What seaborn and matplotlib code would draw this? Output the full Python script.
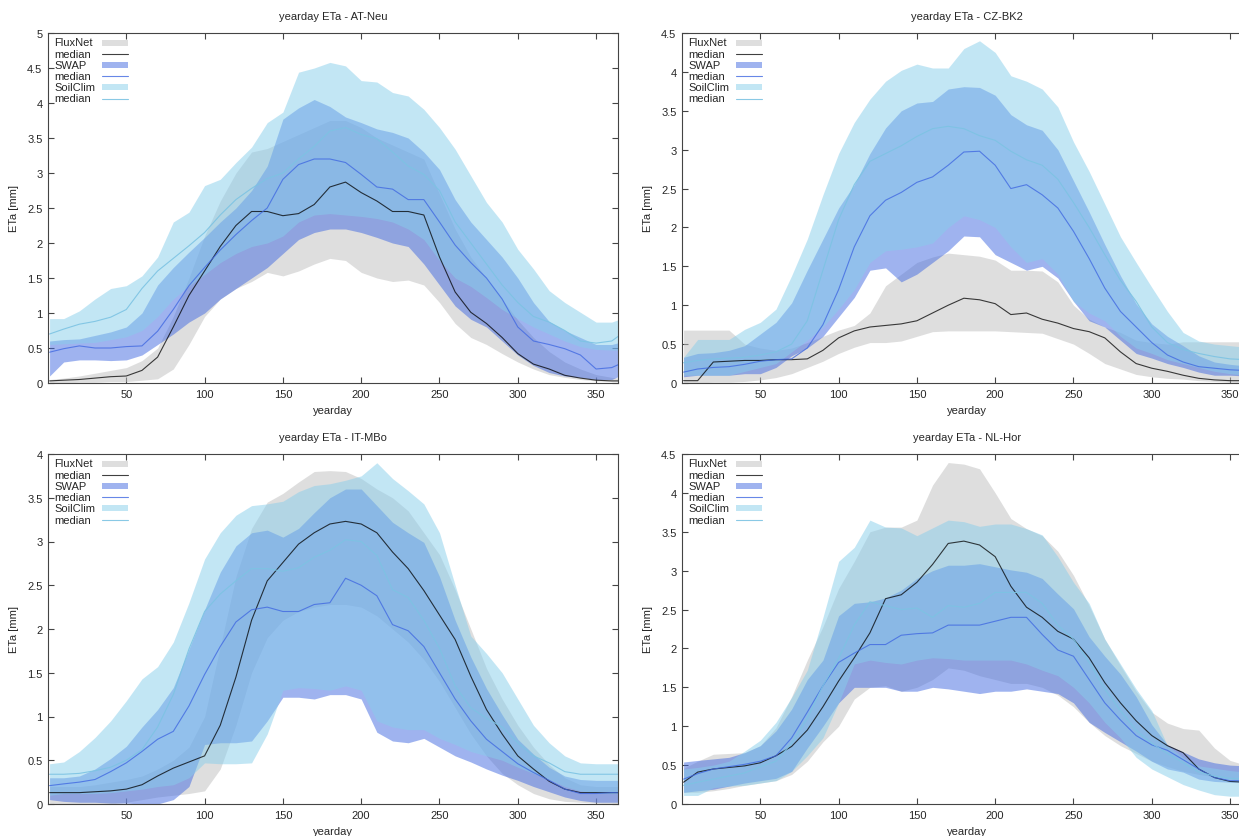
import numpy as np
import pandas as pd
import seaborn as sns
import matplotlib
matplotlib.use('Agg')
import matplotlib.pyplot as plt
from matplotlib.patches import Rectangle
from matplotlib.ticker import FuncFormatter

# Style similar to a gnuplot output
sns.set_style('ticks')
plt.rcParams['font.family'] = ['Liberation Sans', 'DejaVu Sans']
plt.rcParams['font.size'] = 8

# Day grid used by all series
DAYS = [1] + list(range(10, 361, 10)) + [365]

# AT-Neu
at_flux_lo = [0.0, 0.0, 0.01, 0.01, 0.02, 0.02, 0.04, 0.06, 0.2, 0.55, 0.95, 1.2, 1.35, 1.45, 1.58, 1.53, 1.6, 1.7, 1.78, 1.75, 1.58, 1.5, 1.45, 1.47, 1.4, 1.15, 0.85, 0.65, 0.55, 0.42, 0.3, 0.2, 0.12, 0.08, 0.05, 0.03, 0.02, 0.02]
at_flux_md = [0.03, 0.04, 0.05, 0.07, 0.09, 0.1, 0.18, 0.37, 0.8, 1.25, 1.6, 1.95, 2.25, 2.45, 2.45, 2.39, 2.42, 2.55, 2.8, 2.87, 2.72, 2.6, 2.45, 2.45, 2.4, 1.8, 1.3, 1.01, 0.85, 0.65, 0.42, 0.27, 0.2, 0.11, 0.07, 0.04, 0.03, 0.03]
at_flux_hi = [0.05, 0.07, 0.1, 0.14, 0.18, 0.22, 0.32, 0.5, 0.95, 1.5, 2.1, 2.6, 3.0, 3.3, 3.35, 3.45, 3.55, 3.65, 3.75, 3.75, 3.65, 3.5, 3.4, 3.3, 3.2, 2.7, 2.2, 1.8, 1.5, 1.2, 0.9, 0.65, 0.45, 0.3, 0.2, 0.12, 0.08, 0.07]
at_swap_lo = [0.1, 0.3, 0.33, 0.33, 0.32, 0.33, 0.4, 0.55, 0.7, 0.87, 1.0, 1.2, 1.35, 1.5, 1.65, 1.85, 2.05, 2.15, 2.2, 2.2, 2.15, 2.08, 2.0, 1.95, 1.7, 1.4, 1.1, 0.91, 0.8, 0.6, 0.4, 0.25, 0.15, 0.1, 0.08, 0.05, 0.05, 0.1]
at_swap_md = [0.44, 0.49, 0.53, 0.5, 0.5, 0.52, 0.53, 0.74, 1.05, 1.39, 1.65, 1.9, 2.12, 2.32, 2.5, 2.91, 3.12, 3.2, 3.2, 3.15, 2.98, 2.8, 2.77, 2.62, 2.62, 2.3, 1.97, 1.72, 1.5, 1.2, 0.8, 0.6, 0.55, 0.49, 0.4, 0.2, 0.22, 0.27]
at_swap_hi = [0.6, 0.62, 0.63, 0.68, 0.73, 0.8, 1.0, 1.4, 1.65, 1.87, 2.08, 2.3, 2.5, 2.75, 3.1, 3.77, 3.93, 4.05, 3.95, 3.8, 3.72, 3.63, 3.58, 3.5, 3.3, 3.05, 2.62, 2.3, 2.05, 1.8, 1.5, 1.15, 0.88, 0.75, 0.65, 0.55, 0.55, 0.58]
at_soil_lo = [0.55, 0.56, 0.57, 0.58, 0.62, 0.66, 0.75, 0.95, 1.2, 1.39, 1.55, 1.72, 1.85, 1.95, 2.0, 2.1, 2.3, 2.4, 2.42, 2.4, 2.38, 2.35, 2.3, 2.2, 2.05, 1.75, 1.5, 1.38, 1.22, 1.05, 0.92, 0.8, 0.7, 0.6, 0.52, 0.48, 0.47, 0.47]
at_soil_md = [0.7, 0.77, 0.84, 0.88, 0.94, 1.05, 1.35, 1.6, 1.78, 1.96, 2.15, 2.4, 2.62, 2.78, 2.92, 3.0, 3.2, 3.38, 3.6, 3.65, 3.55, 3.49, 3.3, 3.1, 2.98, 2.75, 2.3, 2.0, 1.7, 1.4, 1.15, 0.95, 0.87, 0.75, 0.6, 0.57, 0.6, 0.68]
at_soil_hi = [0.92, 0.92, 1.03, 1.2, 1.35, 1.39, 1.53, 1.8, 2.3, 2.44, 2.82, 2.91, 3.15, 3.37, 3.72, 3.87, 4.44, 4.5, 4.58, 4.53, 4.32, 4.3, 4.15, 4.1, 3.91, 3.65, 3.34, 2.96, 2.58, 2.3, 1.91, 1.63, 1.32, 1.15, 1.01, 0.87, 0.87, 0.91]

# CZ-BK2
cz_flux_lo = [0.0, 0.0, 0.01, 0.01, 0.02, 0.04, 0.07, 0.12, 0.2, 0.28, 0.38, 0.46, 0.52, 0.52, 0.54, 0.6, 0.66, 0.67, 0.67, 0.67, 0.67, 0.66, 0.65, 0.64, 0.57, 0.5, 0.38, 0.25, 0.18, 0.11, 0.08, 0.06, 0.05, 0.03, 0.02, 0.01, 0.0, 0.0]
cz_flux_md = [0.03, 0.03, 0.27, 0.28, 0.29, 0.29, 0.3, 0.3, 0.31, 0.42, 0.58, 0.67, 0.72, 0.74, 0.76, 0.8, 0.9, 1.0, 1.09, 1.07, 1.02, 0.88, 0.9, 0.82, 0.77, 0.7, 0.66, 0.58, 0.4, 0.25, 0.19, 0.15, 0.1, 0.06, 0.04, 0.03, 0.03, 0.03]
cz_flux_hi = [0.68, 0.68, 0.68, 0.68, 0.5, 0.45, 0.42, 0.45, 0.52, 0.6, 0.68, 0.74, 0.9, 1.25, 1.4, 1.55, 1.62, 1.67, 1.65, 1.63, 1.58, 1.45, 1.45, 1.44, 1.3, 1.0, 0.82, 0.72, 0.65, 0.55, 0.52, 0.5, 0.53, 0.53, 0.53, 0.53, 0.53, 0.53]
cz_swap_lo = [0.08, 0.1, 0.1, 0.1, 0.12, 0.12, 0.2, 0.35, 0.45, 0.6, 0.85, 1.1, 1.45, 1.48, 1.3, 1.4, 1.55, 1.7, 1.89, 1.88, 1.65, 1.55, 1.45, 1.5, 1.35, 1.05, 0.8, 0.72, 0.55, 0.38, 0.32, 0.25, 0.2, 0.14, 0.1, 0.1, 0.09, 0.09]
cz_swap_md = [0.14, 0.18, 0.2, 0.21, 0.24, 0.28, 0.3, 0.31, 0.45, 0.75, 1.2, 1.75, 2.15, 2.35, 2.45, 2.58, 2.65, 2.8, 2.97, 2.98, 2.8, 2.5, 2.55, 2.42, 2.25, 1.95, 1.6, 1.22, 0.92, 0.72, 0.52, 0.36, 0.27, 0.21, 0.19, 0.17, 0.16, 0.16]
cz_swap_hi = [0.33, 0.38, 0.39, 0.42, 0.48, 0.63, 0.78, 1.03, 1.45, 1.85, 2.25, 2.55, 2.95, 3.28, 3.5, 3.6, 3.62, 3.78, 3.81, 3.8, 3.7, 3.45, 3.32, 3.25, 3.0, 2.6, 2.2, 1.78, 1.38, 1.02, 0.76, 0.6, 0.48, 0.35, 0.27, 0.24, 0.22, 0.22]
cz_soil_lo = [0.1, 0.1, 0.1, 0.1, 0.15, 0.2, 0.25, 0.4, 0.55, 0.72, 0.95, 1.2, 1.55, 1.7, 1.72, 1.75, 1.8, 2.0, 2.15, 2.1, 2.0, 1.75, 1.55, 1.6, 1.4, 1.05, 0.9, 0.8, 0.6, 0.45, 0.38, 0.3, 0.25, 0.2, 0.15, 0.12, 0.1, 0.1]
cz_soil_md = [0.26, 0.29, 0.31, 0.32, 0.33, 0.36, 0.4, 0.5, 0.8, 1.45, 2.1, 2.55, 2.85, 2.95, 3.05, 3.17, 3.27, 3.3, 3.27, 3.18, 3.12, 2.98, 2.87, 2.8, 2.62, 2.32, 2.0, 1.65, 1.32, 1.05, 0.72, 0.52, 0.43, 0.38, 0.34, 0.31, 0.3, 0.29]
cz_soil_hi = [0.33, 0.56, 0.56, 0.56, 0.69, 0.78, 0.95, 1.38, 1.85, 2.42, 2.95, 3.35, 3.65, 3.88, 4.02, 4.1, 4.05, 4.05, 4.3, 4.4, 4.25, 3.95, 3.88, 3.78, 3.55, 3.1, 2.72, 2.3, 1.88, 1.55, 1.23, 0.92, 0.65, 0.54, 0.5, 0.48, 0.46, 0.46]

# IT-MBo
it_flux_lo = [0.0, 0.0, 0.0, 0.0, 0.0, 0.02, 0.05, 0.08, 0.1, 0.12, 0.15, 0.4, 0.9, 1.5, 1.9, 2.1, 2.2, 2.25, 2.28, 2.28, 2.25, 2.15, 2.0, 1.85, 1.65, 1.4, 1.1, 0.8, 0.55, 0.35, 0.22, 0.12, 0.06, 0.03, 0.02, 0.01, 0.0, 0.0]
it_flux_md = [0.13, 0.13, 0.13, 0.14, 0.15, 0.17, 0.22, 0.32, 0.41, 0.48, 0.55, 0.9, 1.45, 2.1, 2.55, 2.76, 2.97, 3.1, 3.2, 3.23, 3.2, 3.1, 2.88, 2.69, 2.44, 2.16, 1.88, 1.46, 1.08, 0.8, 0.55, 0.4, 0.26, 0.17, 0.13, 0.13, 0.13, 0.13]
it_flux_hi = [0.2, 0.2, 0.2, 0.22, 0.25, 0.28, 0.32, 0.4, 0.5, 0.65, 1.0, 1.8, 2.6, 3.15, 3.45, 3.55, 3.68, 3.8, 3.81, 3.8, 3.72, 3.6, 3.5, 3.35, 3.1, 2.85, 2.45, 2.0, 1.55, 1.2, 0.9, 0.65, 0.45, 0.3, 0.22, 0.2, 0.2, 0.2]
it_swap_lo = [0.05, 0.03, 0.02, 0.02, 0.01, 0.01, 0.0, 0.0, 0.05, 0.2, 0.68, 0.7, 0.7, 0.72, 0.95, 1.22, 1.22, 1.2, 1.25, 1.25, 1.2, 0.82, 0.72, 0.7, 0.75, 0.65, 0.55, 0.48, 0.4, 0.33, 0.27, 0.2, 0.14, 0.08, 0.04, 0.02, 0.02, 0.02]
it_swap_md = [0.21, 0.23, 0.25, 0.28, 0.37, 0.47, 0.6, 0.74, 0.83, 1.12, 1.48, 1.8, 2.08, 2.22, 2.25, 2.2, 2.2, 2.28, 2.3, 2.58, 2.5, 2.38, 2.05, 1.98, 1.8, 1.5, 1.2, 0.95, 0.74, 0.6, 0.46, 0.36, 0.27, 0.17, 0.12, 0.12, 0.13, 0.13]
it_swap_hi = [0.3, 0.3, 0.32, 0.4, 0.52, 0.66, 0.88, 1.08, 1.33, 1.77, 2.22, 2.65, 2.95, 3.1, 3.13, 3.05, 3.15, 3.33, 3.5, 3.6, 3.6, 3.41, 3.22, 3.1, 2.99, 2.6, 2.1, 1.68, 1.32, 1.02, 0.74, 0.57, 0.42, 0.32, 0.28, 0.27, 0.27, 0.27]
it_soil_lo = [0.1, 0.12, 0.12, 0.12, 0.13, 0.15, 0.17, 0.2, 0.22, 0.3, 0.47, 0.46, 0.46, 0.47, 0.8, 1.3, 1.33, 1.32, 1.3, 1.35, 1.3, 0.95, 0.88, 0.85, 0.85, 0.75, 0.68, 0.6, 0.55, 0.5, 0.42, 0.35, 0.28, 0.2, 0.15, 0.12, 0.12, 0.12]
it_soil_md = [0.34, 0.34, 0.35, 0.38, 0.42, 0.5, 0.62, 0.88, 1.25, 1.77, 2.2, 2.4, 2.55, 2.69, 2.69, 2.66, 2.7, 2.82, 2.9, 3.02, 3.0, 2.84, 2.45, 2.36, 2.1, 1.78, 1.35, 1.1, 0.98, 0.88, 0.7, 0.55, 0.47, 0.37, 0.34, 0.34, 0.34, 0.34]
it_soil_hi = [0.46, 0.48, 0.6, 0.76, 0.95, 1.18, 1.43, 1.57, 1.85, 2.3, 2.8, 3.1, 3.3, 3.41, 3.43, 3.46, 3.57, 3.64, 3.66, 3.7, 3.75, 3.9, 3.72, 3.58, 3.43, 3.1, 2.5, 1.92, 1.72, 1.5, 1.2, 0.9, 0.7, 0.55, 0.47, 0.46, 0.46, 0.46]

# NL-Hor
nl_flux_lo = [0.15, 0.15, 0.17, 0.2, 0.24, 0.27, 0.3, 0.38, 0.55, 0.8, 1.0, 1.35, 1.5, 1.52, 1.45, 1.5, 1.6, 1.75, 1.72, 1.65, 1.6, 1.55, 1.55, 1.5, 1.4, 1.25, 1.05, 0.88, 0.75, 0.65, 0.55, 0.48, 0.42, 0.38, 0.35, 0.32, 0.3, 0.3]
nl_flux_md = [0.28, 0.41, 0.45, 0.47, 0.49, 0.53, 0.62, 0.74, 0.95, 1.25, 1.58, 1.88, 2.2, 2.64, 2.69, 2.85, 3.08, 3.35, 3.38, 3.33, 3.18, 2.8, 2.53, 2.4, 2.22, 2.12, 1.88, 1.56, 1.3, 1.07, 0.88, 0.75, 0.66, 0.45, 0.34, 0.29, 0.28, 0.28]
nl_flux_hi = [0.46, 0.55, 0.64, 0.65, 0.66, 0.75, 0.98, 1.38, 1.85, 2.28, 2.77, 3.12, 3.5, 3.56, 3.56, 3.65, 4.1, 4.39, 4.37, 4.31, 4.0, 3.67, 3.54, 3.45, 3.25, 2.94, 2.55, 2.12, 1.78, 1.45, 1.18, 1.04, 0.97, 0.95, 0.72, 0.56, 0.5, 0.49]
nl_swap_lo = [0.15, 0.17, 0.19, 0.23, 0.27, 0.3, 0.33, 0.42, 0.72, 1.0, 1.3, 1.5, 1.5, 1.5, 1.45, 1.45, 1.5, 1.48, 1.45, 1.42, 1.45, 1.45, 1.48, 1.45, 1.42, 1.3, 1.05, 0.92, 0.8, 0.68, 0.55, 0.45, 0.41, 0.32, 0.29, 0.28, 0.28, 0.28]
nl_swap_md = [0.32, 0.39, 0.45, 0.48, 0.51, 0.55, 0.62, 0.85, 1.18, 1.52, 1.82, 1.94, 2.05, 2.05, 2.17, 2.19, 2.2, 2.3, 2.3, 2.3, 2.35, 2.4, 2.4, 2.18, 1.98, 1.9, 1.6, 1.3, 1.08, 0.88, 0.76, 0.69, 0.57, 0.45, 0.34, 0.3, 0.3, 0.3]
nl_swap_hi = [0.54, 0.56, 0.58, 0.6, 0.66, 0.75, 0.94, 1.22, 1.6, 1.85, 2.42, 2.58, 2.6, 2.65, 2.75, 2.9, 3.0, 3.07, 3.07, 3.09, 3.05, 3.01, 2.98, 2.9, 2.7, 2.51, 2.15, 1.9, 1.67, 1.38, 1.02, 0.76, 0.67, 0.58, 0.53, 0.5, 0.49, 0.49]
nl_soil_lo = [0.11, 0.11, 0.21, 0.23, 0.24, 0.27, 0.3, 0.42, 0.62, 0.85, 1.3, 1.8, 1.85, 1.82, 1.8, 1.85, 1.88, 1.87, 1.85, 1.85, 1.85, 1.85, 1.8, 1.72, 1.65, 1.5, 1.3, 1.05, 0.85, 0.6, 0.45, 0.35, 0.25, 0.18, 0.12, 0.1, 0.1, 0.1]
nl_soil_md = [0.24, 0.28, 0.32, 0.36, 0.4, 0.48, 0.55, 0.78, 1.1, 1.52, 1.87, 2.3, 2.6, 2.55, 2.5, 2.52, 2.4, 2.55, 2.53, 2.58, 2.72, 2.72, 2.72, 2.58, 2.3, 2.12, 1.82, 1.48, 1.2, 0.95, 0.78, 0.65, 0.53, 0.41, 0.36, 0.33, 0.32, 0.32]
nl_soil_hi = [0.45, 0.47, 0.5, 0.55, 0.68, 0.82, 1.05, 1.37, 1.72, 2.4, 3.12, 3.3, 3.65, 3.56, 3.55, 3.45, 3.55, 3.65, 3.63, 3.57, 3.6, 3.6, 3.54, 3.46, 3.18, 2.85, 2.58, 2.12, 1.8, 1.48, 1.2, 0.75, 0.6, 0.49, 0.46, 0.43, 0.41, 0.41]

# Panels: site, y max, left/top position in pixels
panels = [
    ('AT-Neu', 5.0, 48, 34, [at_flux_lo, at_flux_md, at_flux_hi, at_swap_lo, at_swap_md, at_swap_hi, at_soil_lo, at_soil_md, at_soil_hi]),
    ('CZ-BK2', 4.5, 682, 34, [cz_flux_lo, cz_flux_md, cz_flux_hi, cz_swap_lo, cz_swap_md, cz_swap_hi, cz_soil_lo, cz_soil_md, cz_soil_hi]),
    ('IT-MBo', 4.0, 48, 455, [it_flux_lo, it_flux_md, it_flux_hi, it_swap_lo, it_swap_md, it_swap_hi, it_soil_lo, it_soil_md, it_soil_hi]),
    ('NL-Hor', 4.5, 682, 455, [nl_flux_lo, nl_flux_md, nl_flux_hi, nl_swap_lo, nl_swap_md, nl_swap_hi, nl_soil_lo, nl_soil_md, nl_soil_hi]),
]

models = ['FluxNet', 'SWAP', 'SoilClim']
fill_colors = {'FluxNet': '#bebebe', 'SWAP': '#4169e1', 'SoilClim': '#87ceeb'}
line_colors = {'FluxNet': '#000000', 'SWAP': '#4169e1', 'SoilClim': '#7cc3e3'}
line_alpha = {'FluxNet': 0.75, 'SWAP': 0.8, 'SoilClim': 0.9}
FILL_ALPHA = 0.5
EDGE = '#444444'

W, H = 1239, 837
AX_W, AX_H = 570, 350

fig = plt.figure(figsize=(W / 100, H / 100), dpi=100)

for site, ymax, px_left, px_top, series in panels:
    ax = fig.add_axes([px_left / W, 1 - (px_top + AX_H) / H, AX_W / W, AX_H / H])

    for i, model in enumerate(models):
        lo, md, hi = series[3 * i], series[3 * i + 1], series[3 * i + 2]
        df = pd.DataFrame({'yearday': DAYS, 'lo': lo, 'median': md, 'hi': hi})
        ax.fill_between(df['yearday'], df['lo'], df['hi'], color=fill_colors[model],
                        alpha=FILL_ALPHA, linewidth=0)
        sns.lineplot(data=df, x='yearday', y='median', ax=ax, color=line_colors[model],
                     alpha=line_alpha[model], linewidth=0.8, legend=False)

    ax.set_xlim(0, 364)
    ax.set_ylim(0, ymax)
    ax.set_xticks(range(50, 351, 50))
    ax.set_yticks(np.arange(0, ymax + 0.01, 0.5))
    ax.yaxis.set_major_formatter(FuncFormatter(lambda v, p: '%g' % v))
    ax.tick_params(direction='in', top=True, right=True, length=4, width=0.8,
                   color=EDGE, labelsize=8, pad=4)
    for sp in ax.spines.values():
        sp.set_color(EDGE)
        sp.set_linewidth(0.8)

    ax.set_title('yearday ETa - ' + site, fontsize=8, pad=10)
    ax.set_xlabel('yearday', fontsize=8, labelpad=5)
    ax.set_ylabel('ETa [mm]', fontsize=8, labelpad=6)

    # gnuplot style key: text first, sample after it
    labels = ['FluxNet', 'median', 'SWAP', 'median', 'SoilClim', 'median']
    for k, lab in enumerate(labels):
        yk = 1 - (9.5 + 11.2 * k) / AX_H
        ax.text(6 / AX_W, yk, lab, transform=ax.transAxes, fontsize=8,
                va='center', ha='left')
        model = models[k // 2]
        if k % 2 == 0:
            ax.add_patch(Rectangle((54 / AX_W, yk - 3 / AX_H), 26 / AX_W, 6 / AX_H,
                                   transform=ax.transAxes, facecolor=fill_colors[model],
                                   alpha=FILL_ALPHA, linewidth=0, clip_on=False))
        else:
            ax.plot([54 / AX_W, 80 / AX_W], [yk, yk], transform=ax.transAxes,
                    color=line_colors[model], alpha=line_alpha[model], linewidth=0.8)

fig.savefig('out.png', dpi=100)
